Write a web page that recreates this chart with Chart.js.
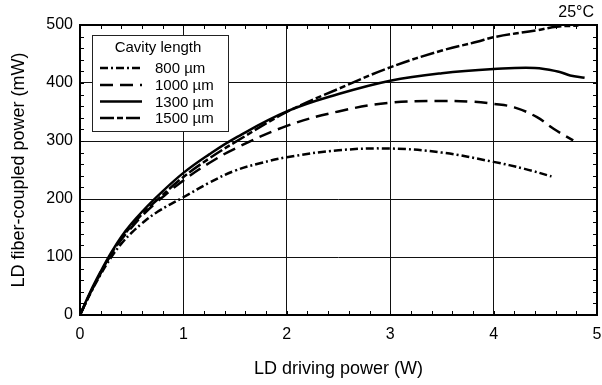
<!DOCTYPE html>
<html>
<head>
<meta charset="utf-8">
<script src="https://cdn.jsdelivr.net/npm/chart.js@4/dist/chart.umd.min.js"></script>
<style>
  html, body { margin: 0; padding: 0; background: #fff; }
  #wrap { width: 602px; height: 385px; position: relative; }
</style>
</head>
<body>
<div id="wrap"><canvas id="c" width="602" height="385"></canvas></div>
<script>
// ---- Data ----
const seriesLabels = ['800 \u00b5m', '1000 \u00b5m', '1300 \u00b5m', '1500 \u00b5m'];

const x800  = [0, 0.1, 0.2, 0.3, 0.4, 0.5, 0.6, 0.75, 1.0, 1.25, 1.5, 1.75, 2.0, 2.5, 3.0, 3.5, 4.0, 4.3, 4.56];
const y800  = [0, 37, 70, 99, 123, 142, 158, 178, 203, 228, 249, 262, 272, 284, 287, 280, 264, 252, 239];

const x1000 = [0, 0.1, 0.2, 0.3, 0.4, 0.5, 0.6, 0.75, 1.0, 1.25, 1.5, 2.0, 2.5, 3.0, 3.5, 3.77, 4.0, 4.2, 4.42, 4.58, 4.77];
const y1000 = [0, 38, 72, 104, 130, 151, 171, 196, 232, 262, 287, 326, 351, 366, 369, 368, 364, 358, 341, 321, 301];

const x1300 = [0, 0.1, 0.2, 0.3, 0.4, 0.5, 0.6, 0.75, 1.0, 1.25, 1.5, 2.0, 2.5, 3.0, 3.5, 4.0, 4.4, 4.64, 4.74, 4.88];
const y1300 = [0, 40, 75, 107, 135, 158, 178, 205, 245, 277, 305, 351, 381, 404, 417, 424, 426, 419, 413, 409];

const x1500 = [0, 0.1, 0.2, 0.3, 0.4, 0.5, 0.6, 0.75, 1.0, 1.25, 1.5, 2.0, 2.5, 3.0, 3.5, 3.84, 4.0, 4.42, 4.61, 4.82];
const y1500 = [0, 38, 73, 105, 132, 154, 174, 199, 238, 270, 298, 350, 390, 427, 456, 471, 479, 491, 497, 499];

const legendTitle = 'Cavity length';
const tempLabel = '25\u00b0C';
const xTitle = 'LD driving power (W)';
const yTitle = 'LD fiber-coupled power (mW)';

// ---- Helpers ----
const pts = (xs, ys) => xs.map((x, i) => ({ x: x, y: ys[i] }));
const FONT = '"Liberation Sans", Arial, Helvetica, sans-serif';
const isMult = (v, m) => Math.abs(v / m - Math.round(v / m)) < 1e-6;

const dashes = [[8, 3, 2, 3], [13, 7], [], [14, 3, 6, 3]];
const xs = [x800, x1000, x1300, x1500];
const ys = [y800, y1000, y1300, y1500];

const datasets = seriesLabels.map((lab, i) => ({
  label: lab,
  data: pts(xs[i], ys[i]),
  borderColor: '#000',
  backgroundColor: '#000',
  borderWidth: 2.5,
  borderDash: dashes[i],
  pointRadius: 0,
  fill: false,
  tension: 0.4
}));

const decorPlugin = {
  id: 'decor',
  afterDatasetsDraw(chart) {
    const ctx = chart.ctx;
    const a = chart.chartArea;
    const xs = chart.scales.x, ys = chart.scales.y;
    ctx.save();
    ctx.strokeStyle = '#000';
    ctx.lineWidth = 1;
    ctx.setLineDash([]);
    const tl = 4;
    xs.ticks.forEach(t => {
      const px = Math.round(xs.getPixelForValue(t.value)) + 0.5;
      ctx.beginPath();
      ctx.moveTo(px, a.bottom); ctx.lineTo(px, a.bottom - tl);
      ctx.moveTo(px, a.top); ctx.lineTo(px, a.top + tl);
      ctx.stroke();
    });
    ys.ticks.forEach(t => {
      const py = Math.round(ys.getPixelForValue(t.value)) + 0.5;
      ctx.beginPath();
      ctx.moveTo(a.left, py); ctx.lineTo(a.left + tl, py);
      ctx.moveTo(a.right, py); ctx.lineTo(a.right - tl, py);
      ctx.stroke();
    });
    // frame
    ctx.lineWidth = 2;
    ctx.strokeRect(a.left, a.top, a.right - a.left, a.bottom - a.top);

    // legend box
    const bx = 92.5, by = 35.5, bw = 136, bh = 96;
    ctx.fillStyle = '#fff';
    ctx.fillRect(bx, by, bw, bh);
    ctx.lineWidth = 1;
    ctx.strokeStyle = '#222';
    ctx.strokeRect(bx, by, bw, bh);
    ctx.fillStyle = '#000';
    ctx.font = '15px ' + FONT;
    ctx.textAlign = 'center';
    ctx.textBaseline = 'middle';
    ctx.fillText(legendTitle, 158, 48);
    const rowY = [68, 85, 101.5, 118];
    chart.data.datasets.forEach((ds, i) => {
      ctx.strokeStyle = '#000';
      ctx.lineWidth = 2.5;
      ctx.setLineDash(ds.borderDash || []);
      ctx.beginPath();
      ctx.moveTo(100, rowY[i]); ctx.lineTo(142, rowY[i]);
      ctx.stroke();
      ctx.setLineDash([]);
      ctx.textAlign = 'left';
      ctx.fillText(ds.label, 155, rowY[i] + 1);
    });

    // temperature label
    ctx.font = '16px ' + FONT;
    ctx.textAlign = 'right';
    ctx.textBaseline = 'alphabetic';
    ctx.fillText(tempLabel, 594, 17);
    ctx.restore();
  }
};

new Chart(document.getElementById('c'), {
  type: 'line',
  data: { datasets: datasets },
  options: {
    responsive: false,
    animation: false,
    devicePixelRatio: 1,
    layout: { padding: { top: 25, right: 5, left: 0, bottom: 0 } },
    plugins: { legend: { display: false }, tooltip: { enabled: false } },
    scales: {
      x: {
        type: 'linear',
        min: 0, max: 5,
        afterFit: s => { s.height = 70; s.paddingLeft = 0; s.paddingRight = 0; },
        grid: {
          drawTicks: false,
          color: c => isMult(c.tick.value, 1) ? '#111' : 'rgba(0,0,0,0)',
          lineWidth: 1
        },
        border: { display: false },
        ticks: {
          stepSize: 0.2,
          autoSkip: false,
          maxRotation: 0,
          maxTicksLimit: 1000,
          padding: 10,
          color: '#000',
          font: { family: FONT, size: 16 },
          callback: v => isMult(v, 1) ? String(Math.round(v)) : ''
        },
        title: {
          display: true, text: xTitle, color: '#000',
          font: { family: FONT, size: 18 },
          padding: { top: 0, bottom: 5 }
        }
      },
      y: {
        type: 'linear',
        min: 0, max: 500,
        afterFit: s => { s.width = 80; s.paddingTop = 0; s.paddingBottom = 0; },
        grid: {
          drawTicks: false,
          color: c => isMult(c.tick.value, 100) ? '#111' : 'rgba(0,0,0,0)',
          lineWidth: 1
        },
        border: { display: false },
        ticks: {
          stepSize: 20,
          autoSkip: false,
          maxTicksLimit: 1000,
          padding: 7,
          color: '#000',
          font: { family: FONT, size: 16 },
          callback: v => isMult(v, 100) ? String(Math.round(v)) : ''
        },
        title: {
          display: true, text: yTitle, color: '#000',
          font: { family: FONT, size: 18 },
          padding: { top: 8, bottom: 0 }
        }
      }
    }
  },
  plugins: [decorPlugin]
});
</script>
</body>
</html>
